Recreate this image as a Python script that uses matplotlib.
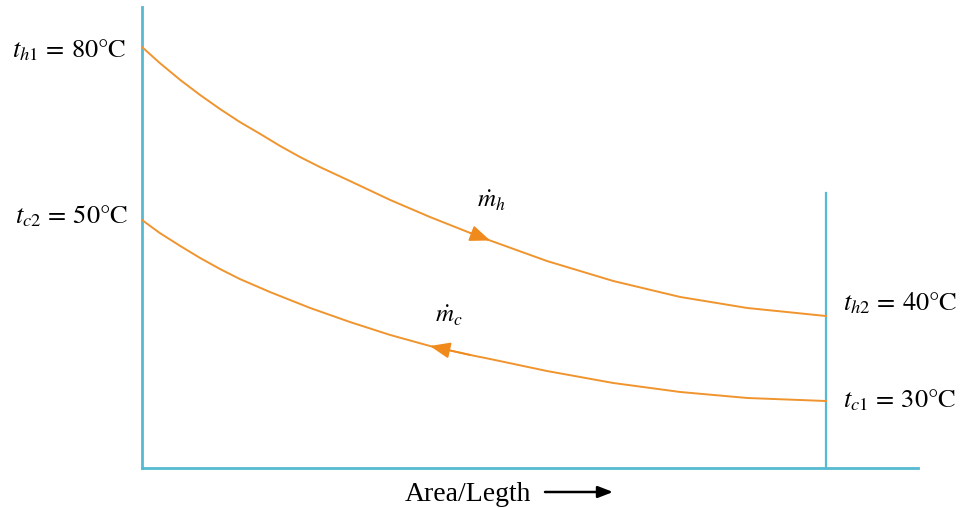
import matplotlib
matplotlib.use("Agg")
import matplotlib.pyplot as plt

plt.rcParams['font.family'] = ['Liberation Serif', 'DejaVu Serif']
plt.rcParams['mathtext.fontset'] = 'stix'

# Counter-flow profile
# x: fraction of exchanger area/length, y: height of each curve (schematic units)
area_hot = [0.0, 0.026, 0.056, 0.085, 0.114, 0.143, 0.173, 0.202, 0.231, 0.260,
            0.304, 0.363, 0.421, 0.480, 0.509, 0.592, 0.689, 0.787, 0.885, 1.0]
hot = [421, 405, 388, 373, 359, 346, 334, 322, 311, 301,
       287, 268, 251, 235, 227.5, 207, 187, 171, 160, 152]

area_cold = [0.0, 0.026, 0.056, 0.085, 0.114, 0.143, 0.187, 0.246, 0.304,
             0.363, 0.421, 0.480, 0.509, 0.592, 0.689, 0.787, 0.885, 1.0]
cold = [248, 235, 222, 210, 199, 189, 176, 160, 146,
        133, 122, 113, 109, 97, 85, 76, 70, 67]

hot_in, hot_out = r'$t_{h1}\,=\,\mathrm{80°C}$', r'$t_{h2}\,=\,\mathrm{40°C}$'
cold_in, cold_out = r'$t_{c1}\,=\,\mathrm{30°C}$', r'$t_{c2}\,=\,\mathrm{50°C}$'

LINE = '#55bad2'
CURVE = '#f0942e'
ARROW = '#f08a1c'

fig = plt.figure(figsize=(9.65, 5.08), dpi=100)
ax = fig.add_axes([142 / 965, 40 / 508, 776 / 965, 461 / 508])
ax.set_xlim(0, 776 / 684)
ax.set_ylim(0, 461)
ax.axis('off')

# frame: left wall, bottom axis, right wall (end of exchanger)
ax.axvline(0, color=LINE, lw=2.0, clip_on=False)
ax.axhline(0, color=LINE, lw=2.0, clip_on=False)
ax.plot([area_hot[-1], area_hot[-1]], [0, 275], color=LINE, lw=1.6, clip_on=False)

ax.plot(area_hot, hot, color=CURVE, lw=1.4, solid_joinstyle='round')
ax.plot(area_cold, cold, color=CURVE, lw=1.4, solid_joinstyle='round')

# flow direction arrows
arr = dict(arrowstyle='-|>,head_length=1.25,head_width=0.5', color=ARROW, lw=1.2,
           shrinkA=0, shrinkB=0)
ax.annotate('', xy=(area_hot[14], hot[14]), xytext=(area_hot[13], hot[13]), arrowprops=arr)
ax.annotate('', xy=(area_cold[10], cold[10]), xytext=(area_cold[11], cold[11]), arrowprops=arr)

ax.annotate(r'$\dot{m}_h$', xy=(area_hot[14], hot[14]), xytext=(-13, 33),
            textcoords='offset pixels', fontsize=18, ha='left', va='baseline')
ax.annotate(r'$\dot{m}_c$', xy=(area_cold[10], cold[10]), xytext=(5, 23),
            textcoords='offset pixels', fontsize=18, ha='left', va='baseline')

# end temperatures
fs = 19
ax.annotate(hot_in, xy=(area_hot[0], hot[0]), xytext=(-15, -10), textcoords='offset pixels',
            fontsize=fs, ha='right', va='baseline')
ax.annotate(cold_out, xy=(area_cold[0], cold[0]), xytext=(-13, -3), textcoords='offset pixels',
            fontsize=fs, ha='right', va='baseline')
ax.annotate(hot_out, xy=(area_hot[-1], hot[-1]), xytext=(17, 6), textcoords='offset pixels',
            fontsize=fs, ha='left', va='baseline')
ax.annotate(cold_in, xy=(area_cold[-1], cold[-1]), xytext=(17, -6), textcoords='offset pixels',
            fontsize=fs, ha='left', va='baseline')

# axis caption with arrow
fig.text(405 / 965, 7 / 508, 'Area/Legth', fontsize=20, ha='left', va='baseline')
ax.annotate('', xy=(613, 16), xytext=(545, 16), xycoords='figure pixels',
            textcoords='figure pixels',
            arrowprops=dict(arrowstyle='-|>,head_length=0.9,head_width=0.35',
                            color='black', lw=1.8, shrinkA=0, shrinkB=0))

fig.savefig('out.png', dpi=100)
